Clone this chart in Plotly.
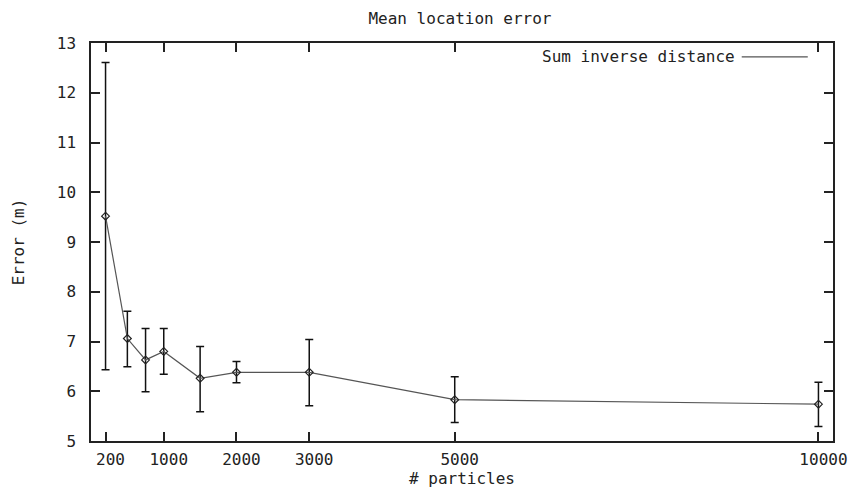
import plotly.graph_objects as go

# Data
particles = [200, 500, 750, 1000, 1500, 2000, 3000, 5000, 10000]
mean_error = [9.52, 7.06, 6.63, 6.80, 6.26, 6.38, 6.38, 5.83, 5.74]
err_high = [12.61, 7.61, 7.26, 7.26, 6.90, 6.60, 7.04, 6.29, 6.18]
err_low = [6.43, 6.49, 5.99, 6.34, 5.59, 6.17, 5.71, 5.37, 5.29]

x_ticks = [200, 1000, 2000, 3000, 5000, 10000]
y_ticks = [5, 6, 7, 8, 9, 10, 11, 12, 13]

series_name = "Sum inverse distance"
title_text = "Mean location error"
x_title = "# particles"
y_title = "Error (m)"

FONT = "DejaVu Sans Mono"
FS = 16
TXT = "#222222"
err_plus = [h - m for h, m in zip(err_high, mean_error)]
err_minus = [m - l for m, l in zip(mean_error, err_low)]

fig = go.Figure()
fig.add_trace(go.Scatter(
    x=particles, y=mean_error,
    mode="lines+markers",
    name=series_name,
    line=dict(color="#555555", width=1.2),
    marker=dict(symbol="diamond-open", size=6, color="#222222", line=dict(width=1.2)),
    error_y=dict(type="data", symmetric=False, array=err_plus, arrayminus=err_minus,
                 color="#111111", thickness=1.5, width=4),
    showlegend=False,
))

axis_common = dict(
    showgrid=False, zeroline=False, automargin=False,
    showline=True, linecolor="#222222", linewidth=1.5,
    mirror="ticks", ticks="inside", ticklen=9, tickwidth=1.5, tickcolor="#222222",
    tickfont=dict(family=FONT, size=FS, color=TXT),
)

# The page body has an 8px margin, so the figure is sized to fill the window from there
fig.update_layout(
    width=848, height=481,
    margin=dict(l=83, r=23, t=35, b=48),
    paper_bgcolor="white", plot_bgcolor="white",
    title=dict(text=title_text, x=0.533, xref="container", xanchor="center",
               y=0.979, yref="container", yanchor="middle",
               font=dict(family=FONT, size=FS, color=TXT)),
    xaxis=dict(range=[0, 10200], tickvals=x_ticks, ticktext=[str(v) for v in x_ticks],
               ticklabelshift=5, ticklabelstandoff=3,
               title=dict(text=x_title, font=dict(family=FONT, size=FS, color=TXT), standoff=2),
               **axis_common),
    yaxis=dict(range=[5, 13], tickvals=y_ticks, ticklabelstandoff=10,
               title=dict(text=y_title, font=dict(family=FONT, size=FS, color=TXT), standoff=28),
               **axis_common),
)

# Gnuplot-style key: text followed by line sample, top-right inside the plot
fig.add_annotation(xref="paper", yref="paper", x=0.870, y=0.965, xanchor="right", yanchor="middle",
                   text=series_name, showarrow=False,
                   font=dict(family=FONT, size=FS, color=TXT))
fig.add_shape(type="line", xref="paper", yref="paper", x0=0.877, x1=0.966, y0=0.965, y1=0.965,
              line=dict(color="#555555", width=1.2))

fig.write_html("out.html")
